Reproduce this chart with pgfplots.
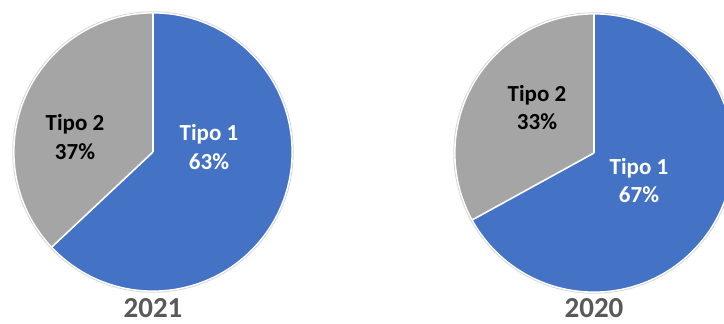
\documentclass[border=0pt]{standalone}
\usepackage{pgfplots}
\pgfplotsset{compat=1.18}
\usepackage{fontspec}
\setmainfont{Carlito}
\definecolor{tipoA}{HTML}{4472C4}
\definecolor{tipoB}{HTML}{A5A5A5}
\definecolor{yearc}{HTML}{595959}
\definecolor{rimc}{HTML}{D9D9D9}
% data (percent)
\newcommand{\TipoAyearA}{63}  % 2021 Tipo 1
\newcommand{\TipoByearA}{37}  % 2021 Tipo 2
\newcommand{\TipoAyearB}{67}  % 2020 Tipo 1
\newcommand{\TipoByearB}{33}  % 2020 Tipo 2
\pgfmathsetmacro{\endA}{90-3.6*\TipoAyearA}
\pgfmathsetmacro{\endB}{90-3.6*\TipoAyearB}
\newcommand{\pierad}{139pt}
\newcommand{\sector}[5]{%
  \fill[#5] (axis cs:#1,#2) -- ++(#3:\pierad) arc[start angle=#3, end angle=#4, radius=\pierad] -- cycle;}
\newcommand{\sepline}[3]{%
  \draw[white, line width=1.6pt] (axis cs:#1,#2) -- ++(#3:\pierad);}
\begin{document}
\begin{tikzpicture}
\begin{axis}[x=1pt, y=1pt, xmin=0, xmax=724, ymin=0, ymax=324,
  axis line style={draw=none}, ticks=none, clip=true]
\path (rel axis cs:0,0) rectangle (rel axis cs:1,1);
% 2021
\draw[rimc, line width=1pt] (axis cs:153,172) circle[radius=140.2pt];
\sector{153}{172}{90}{\endA}{tipoA}
\sector{153}{172}{\endA}{-270}{tipoB}
\sepline{153}{172}{90}
\sepline{153}{172}{\endA}
\draw[white, line width=1.2pt] (axis cs:153,172) circle[radius=\pierad];
% 2020
\draw[rimc, line width=1pt] (axis cs:594,171) circle[radius=140.2pt];
\sector{594}{171}{90}{\endB}{tipoA}
\sector{594}{171}{\endB}{-270}{tipoB}
\sepline{594}{171}{90}
\sepline{594}{171}{\endB}
\draw[white, line width=1.2pt] (axis cs:594,171) circle[radius=\pierad];
% labels
\node[align=center, text=white, font=\fontsize{23}{29}\selectfont\bfseries] at (axis cs:209,177) {Tipo 1\\\TipoAyearA\%};
\node[align=center, text=black, font=\fontsize{23}{29}\selectfont\bfseries] at (axis cs:75,187) {Tipo 2\\\TipoByearA\%};
\node[align=center, text=black, font=\fontsize{23}{28}\selectfont\bfseries] at (axis cs:537,216) {Tipo 2\\\TipoByearB\%};
\node[align=center, text=white, font=\fontsize{23}{28}\selectfont\bfseries] at (axis cs:639,143) {Tipo 1\\\TipoAyearB\%};
\node[text=yearc, inner sep=0pt, font=\fontsize{29}{34}\selectfont\bfseries] at (axis cs:153,16) {2021};
\node[text=yearc, inner sep=0pt, font=\fontsize{29}{34}\selectfont\bfseries] at (axis cs:594,16) {2020};
\end{axis}
\end{tikzpicture}
\end{document}
